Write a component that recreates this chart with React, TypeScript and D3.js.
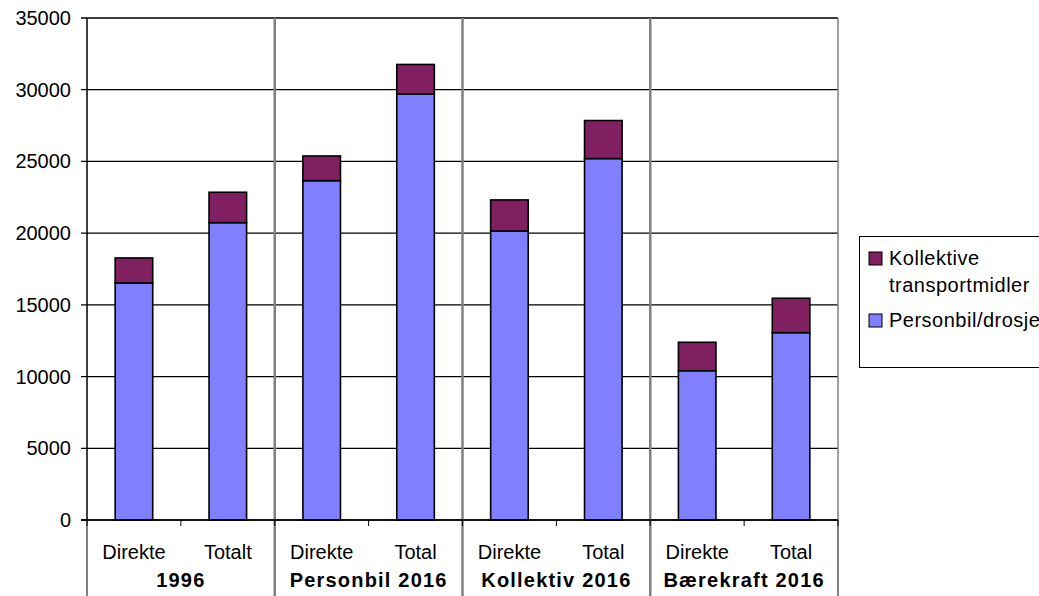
import React from "react";
import * as d3 from "d3";

const categories = ["Direkte", "Totalt", "Direkte", "Total", "Direkte", "Total", "Direkte", "Total"];
const groups = ["1996", "Personbil 2016", "Kollektiv 2016", "Bærekraft 2016"];
const personbil = [16530, 20730, 23660, 29700, 20150, 25200, 10410, 13060];
const kollektive = [1740, 2120, 1720, 2060, 2165, 2650, 1980, 2400];
const yTicks = [0, 5000, 10000, 15000, 20000, 25000, 30000, 35000];
const seriesNames = ["Kollektive transportmidler", "Personbil/drosje"];

const W = 1039;
const H = 596;
const left = 87;
const right = 838;
const top = 18;
const bottom = 520;
const FONT = "'Liberation Sans', Arial, sans-serif";
const BLUE = "#8080FF";
const PURPLE = "#802060";

export default function App() {
  const x = d3.scaleBand<number>().domain(d3.range(categories.length)).range([left, right]).padding(0);
  const y = d3.scaleLinear().domain([0, 35000]).range([bottom, top]);
  const bw = x.bandwidth() * 0.4;
  const groupW = (right - left) / groups.length;
  const stacked = d3.stack<number>().keys(["p", "k"]).value((i, key) => (key === "p" ? personbil[i] : kollektive[i]))(d3.range(categories.length));

  return (
    <svg width={W} height={H} style={{ position: "absolute", left: 0, top: 0, background: "#fff" }} fontFamily={FONT}>
      <rect x={0} y={0} width={W} height={H} fill="#fff" />
      {/* gridlines */}
      {yTicks.map((t) => (
        <line key={t} x1={left - 6} x2={right} y1={y(t)} y2={y(t)} stroke="#000" strokeWidth={1.3} />
      ))}
      {yTicks.map((t) => (
        <text key={"l" + t} x={71} y={y(t) + 7} textAnchor="end" fontSize={20} fill="#000">
          {t}
        </text>
      ))}
      {/* group separators */}
      {d3.range(1, groups.length).map((g) => (
        <line key={"s" + g} x1={left + g * groupW} x2={left + g * groupW} y1={top} y2={H} stroke="#808080" strokeWidth={2.5} />
      ))}
      <line x1={right} x2={right} y1={top} y2={bottom} stroke="#808080" strokeWidth={1.5} />
      <line x1={right} x2={right} y1={bottom} y2={H} stroke="#808080" strokeWidth={2} />
      <line x1={left} x2={left} y1={bottom} y2={H} stroke="#808080" strokeWidth={2} />
      {/* bars */}
      {stacked.map((layer, li) =>
        layer.map((d, i) => {
          const cx = (x(i) as number) + x.bandwidth() / 2;
          return (
            <rect
              key={li + "-" + i}
              x={cx - bw / 2}
              y={y(d[1])}
              width={bw}
              height={y(d[0]) - y(d[1])}
              fill={li === 0 ? BLUE : PURPLE}
              stroke="#000"
              strokeWidth={1.6}
            />
          );
        })
      )}
      {/* axes */}
      <line x1={left} x2={left} y1={top} y2={bottom} stroke="#000" strokeWidth={1.5} />
      <line x1={left - 6} x2={right} y1={bottom} y2={bottom} stroke="#000" strokeWidth={1.5} />
      {d3.range(categories.length + 1).map((i) => (
        <line key={"t" + i} x1={left + i * x.step()} x2={left + i * x.step()} y1={bottom} y2={bottom + 6} stroke="#000" strokeWidth={1} />
      ))}
      {categories.map((c, i) => (
        <text key={"c" + i} x={(x(i) as number) + x.bandwidth() / 2} y={559} textAnchor="middle" fontSize={20} fill="#000">
          {c}
        </text>
      ))}
      {groups.map((g, i) => (
        <text key={"g" + i} x={left + (i + 0.5) * groupW} y={587} textAnchor="middle" fontSize={20} fontWeight="bold" letterSpacing={1.2} fill="#000">
          {g}
        </text>
      ))}
      {/* legend */}
      <rect x={859.5} y={236.5} width={200} height={131} fill="#fff" stroke="#000" strokeWidth={1} />
      <rect x={869} y={252} width={13} height={13} fill={PURPLE} stroke="#000" strokeWidth={1} />
      <text x={889} y={265} fontSize={20} letterSpacing={0.5} fill="#000">Kollektive</text>
      <text x={889} y={292} fontSize={20} letterSpacing={0.5} fill="#000">transportmidler</text>
      <rect x={869} y={314} width={13} height={13} fill={BLUE} stroke="#000" strokeWidth={1} />
      <text x={889} y={327} fontSize={20} letterSpacing={0.5} fill="#000">{seriesNames[1]}</text>
    </svg>
  );
}
